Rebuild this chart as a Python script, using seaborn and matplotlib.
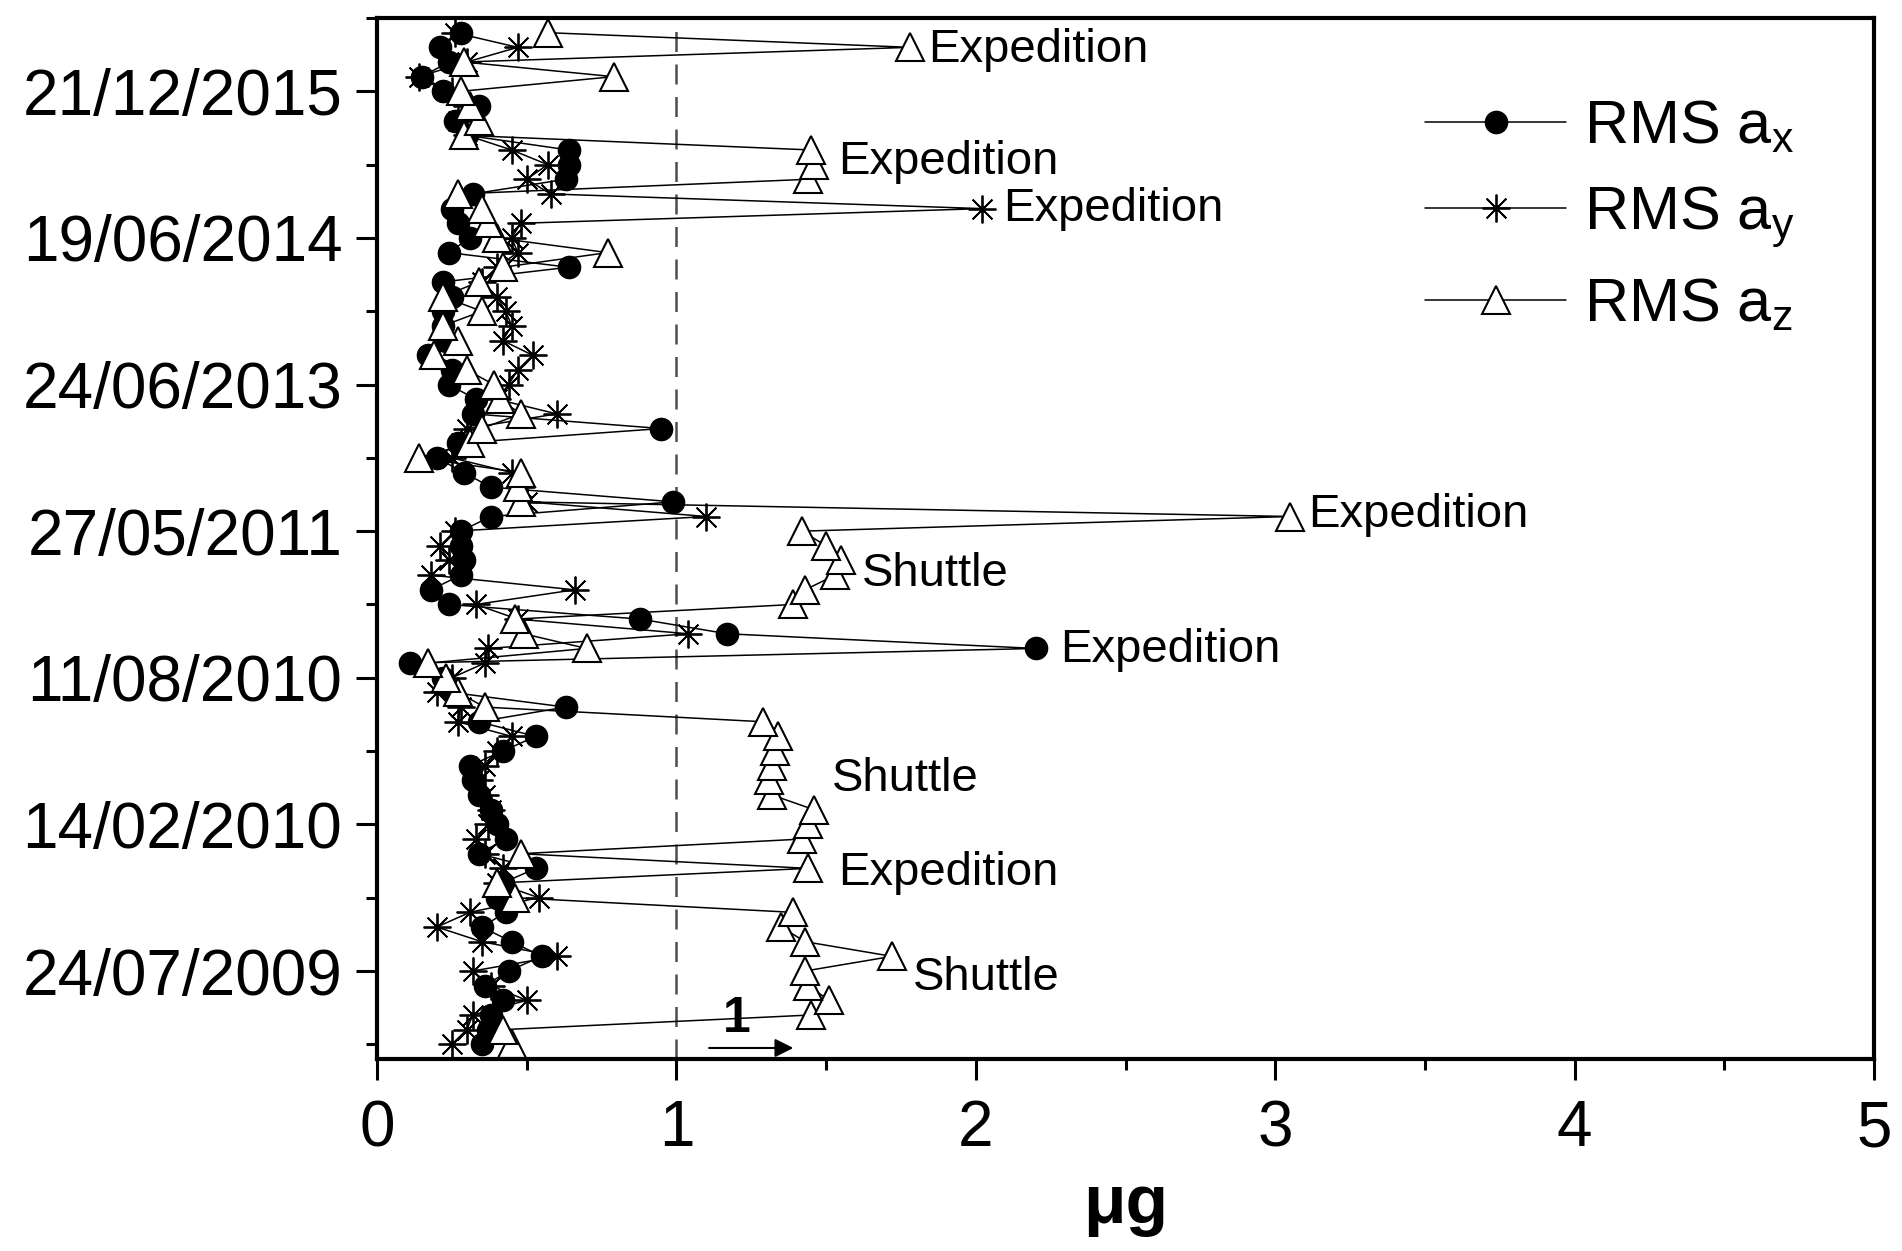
import numpy as np
import pandas as pd
import matplotlib
matplotlib.use("Agg")
import matplotlib.pyplot as plt
import seaborn as sns

# RMS values (micro-g) per measurement, index 0 = oldest (bottom of the chart)
rms_ax = [0.35, 0.37, 0.38, 0.42, 0.36, 0.44, 0.55, 0.45, 0.35, 0.43,
          0.40, 0.42, 0.53, 0.34, 0.43, 0.40, 0.38, 0.34, 0.32, 0.31,
          0.42, 0.53, 0.34, 0.63, 0.25, 0.22, 0.11, 2.20, 1.17, 0.88,
          0.24, 0.18, 0.28, 0.29, 0.28, 0.28, 0.38, 0.99, 0.38, 0.29,
          0.20, 0.27, 0.95, 0.32, 0.33, 0.24, 0.25, 0.17, 0.23, 0.22,
          0.22, 0.25, 0.22, 0.64, 0.24, 0.31, 0.27, 0.25, 0.32, 0.63,
          0.64, 0.64, 0.30, 0.26, 0.34, 0.22, 0.15, 0.24, 0.21, 0.28]
rms_ay = [0.25, 0.30, 0.32, 0.50, 0.38, 0.32, 0.60, 0.35, 0.20, 0.31,
          0.54, 0.40, 0.42, 0.36, 0.33, 0.37, 0.38, 0.36, 0.34, 0.36,
          0.40, 0.45, 0.27, 0.28, 0.20, 0.25, 0.36, 0.37, 1.04, 0.47,
          0.33, 0.66, 0.18, 0.24, 0.21, 0.26, 1.10, 0.50, 0.48, 0.45,
          0.25, 0.28, 0.30, 0.60, 0.40, 0.44, 0.47, 0.52, 0.42, 0.45,
          0.43, 0.40, 0.35, 0.40, 0.47, 0.45, 0.48, 2.02, 0.58, 0.50,
          0.57, 0.45, 0.30, 0.27, 0.30, 0.25, 0.14, 0.30, 0.47, 0.26]
rms_az = [0.45, 0.42, 1.45, 1.51, 1.44, 1.43, 1.72, 1.43, 1.35, 1.39,
          0.46, 0.40, 1.44, 0.48, 1.42, 1.44, 1.46, 1.32, 1.31, 1.32,
          1.33, 1.34, 1.29, 0.36, 0.27, 0.23, 0.17, 0.70, 0.49, 0.46,
          1.39, 1.43, 1.53, 1.55, 1.50, 1.42, 3.05, 0.48, 0.47, 0.48,
          0.14, 0.31, 0.35, 0.48, 0.41, 0.39, 0.30, 0.19, 0.27, 0.22,
          0.35, 0.22, 0.34, 0.42, 0.77, 0.40, 0.37, 0.35, 0.27, 1.44,
          1.46, 1.45, 0.29, 0.34, 0.31, 0.28, 0.79, 0.29, 1.78, 0.57]

# date labels shown on the y axis (every 10th measurement, starting at 5)
date_labels = ['24/07/2009', '14/02/2010', '11/08/2010', '27/05/2011',
               '24/06/2013', '19/06/2014', '21/12/2015']
date_ticks = [5, 15, 25, 35, 45, 55, 65]

# event annotations (text, x, y)
events = [('Expedition', 1.84, 67.8), ('Expedition', 1.54, 60.2),
          ('Expedition', 2.09, 57.0), ('Expedition', 3.11, 36.1),
          ('Shuttle', 1.62, 32.1), ('Expedition', 2.28, 26.9),
          ('Shuttle', 1.52, 18.1), ('Expedition', 1.54, 11.7),
          ('Shuttle', 1.79, 4.5)]

idx = np.arange(len(rms_ax))
df = pd.concat([
    pd.DataFrame({'idx': idx, 'value': rms_ax, 'series': 'ax'}),
    pd.DataFrame({'idx': idx, 'value': rms_ay, 'series': 'ay'}),
    pd.DataFrame({'idx': idx, 'value': rms_az, 'series': 'az'}),
])

sns.set_style('ticks')
plt.rcParams['font.family'] = ['Liberation Sans', 'DejaVu Sans']
plt.rcParams['mathtext.default'] = 'regular'
plt.rcParams['text.color'] = 'black'
plt.rcParams['axes.labelcolor'] = 'black'
plt.rcParams['xtick.color'] = 'black'
plt.rcParams['ytick.color'] = 'black'

fig = plt.figure(figsize=(19.02, 12.51), dpi=100)
ax = fig.add_axes([0.1982, 0.1535, 0.9853 - 0.1982, 0.9856 - 0.1535])

styles = {
    'ax': dict(marker='o', markersize=16, markerfacecolor='k', markeredgecolor='k', markeredgewidth=1),
    'ay': dict(marker=(8, 2, 0), markersize=20, markerfacecolor='k', markeredgecolor='k', markeredgewidth=1.3),
    'az': dict(marker='^', markersize=20, markerfacecolor='white', markeredgecolor='k', markeredgewidth=1.5),
}
for name in ['ax', 'ay', 'az']:
    sub = df[df['series'] == name]
    sns.lineplot(data=sub, x='value', y='idx', sort=False, estimator=None,
                 color='k', linewidth=1.1, ax=ax, legend=False, **styles[name])

handles = list(ax.lines[:3])
ax.axvline(1, color='0.3', linestyle=(0, (8, 5)), linewidth=1.8, zorder=0)

for text, x, y in events:
    ax.text(x, y, text, fontsize=34, va='center', ha='left', color='black')

ax.text(1.20, 1.7, '1', fontsize=36, fontweight='bold', ha='center', va='center')
ax.annotate('', xy=(1.40, -0.25), xytext=(1.10, -0.25),
            arrowprops=dict(arrowstyle='-|>', color='k', lw=1.5, mutation_scale=28))

ax.set_xlim(0, 5)
ax.set_ylim(-1, 70)
ax.set_xticks(range(6))
ax.set_xticks(np.arange(0.5, 5, 1), minor=True)
ax.set_yticks(date_ticks)
ax.set_yticklabels(date_labels)
ax.set_yticks(range(0, 71, 10), minor=True)
ax.tick_params(axis='both', which='major', labelsize=46, length=15, width=2.2, direction='out')
ax.tick_params(axis='both', which='minor', length=8, width=2.2, direction='out')
ax.tick_params(axis='x', which='major', pad=14)
ax.tick_params(axis='y', which='major', pad=10)
for sp in ax.spines.values():
    sp.set_linewidth(3)
    sp.set_color('k')

ax.set_xlabel('μg', fontsize=50, fontweight='bold', labelpad=10)
ax.set_ylabel('')

ax.legend(handles, ['RMS a$_x$', 'RMS a$_y$', 'RMS a$_z$'], loc='upper left',
          bbox_to_anchor=(0.684, 0.945), frameon=False, fontsize=44,
          handlelength=2.3, handletextpad=0.3, labelspacing=0.45, borderaxespad=0)

fig.savefig('out.png', dpi=100)
